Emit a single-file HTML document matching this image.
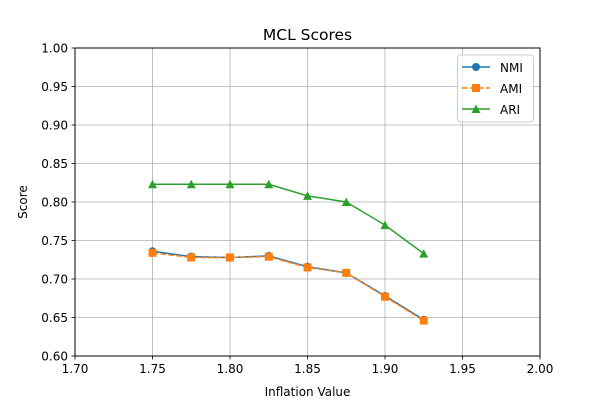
<!DOCTYPE html>
<html><head><meta charset="utf-8"><style>
body{margin:0;background:#fff}
svg text{font-family:"DejaVu Sans","Liberation Sans",sans-serif;fill:#000}
</style></head><body>
<svg id="chart" width="600" height="400" xmlns="http://www.w3.org/2000/svg">
<rect width="600" height="400" fill="#fff"/>
<g id="grid"></g>
<g id="ticks"></g>
<g id="series"></g>
<rect x="75" y="48" width="465" height="308" fill="none" stroke="#000" stroke-width="1"/>
<text x="307.5" y="40" font-size="15.5" text-anchor="middle">MCL Scores</text>
<text x="307.5" y="396" font-size="12" text-anchor="middle">Inflation Value</text>
<text x="27" y="202" font-size="12" text-anchor="middle" transform="rotate(-90 27 202)">Score</text>
<g>
<rect x="457.5" y="55" width="76" height="67" rx="3" fill="#fff" fill-opacity="0.8" stroke="#ccc"/>
<g><line x1="462" y1="67" x2="490" y2="67" stroke="#1f77b4" stroke-width="1.5"/><circle cx="476" cy="67" r="4" fill="#1f77b4"/><text x="500" y="72" font-size="12">NMI</text></g>
<g><line x1="462" y1="88" x2="490" y2="88" stroke="#ff7f0e" stroke-width="1.5" stroke-dasharray="5.5,2.5"/><rect x="472" y="84" width="8" height="8" fill="#ff7f0e"/><text x="500" y="93" font-size="12">AMI</text></g>
<g><line x1="462" y1="109" x2="490" y2="109" stroke="#2ca02c" stroke-width="1.5"/><polygon points="476,104.5 480.5,113 471.5,113" fill="#2ca02c"/><text x="500" y="114" font-size="12">ARI</text></g>
</g>
</svg>
<script>
const xValues=[1.75,1.775,1.8,1.825,1.85,1.875,1.9,1.925];
const nmi=[0.736,0.729,0.728,0.730,0.716,0.708,0.678,0.647];
const ami=[0.734,0.728,0.728,0.729,0.715,0.708,0.677,0.646];
const ari=[0.823,0.823,0.823,0.823,0.808,0.800,0.770,0.733];
const xTicks=["1.70","1.75","1.80","1.85","1.90","1.95","2.00"];
const yTicks=["0.60","0.65","0.70","0.75","0.80","0.85","0.90","0.95","1.00"];
const NS="http://www.w3.org/2000/svg";
const X0=75,X1=540,Y0=356,Y1=48;
const xs=v=>X0+(v-1.7)/(2.0-1.7)*(X1-X0);
const ys=v=>Y0-(v-0.6)/(1.0-0.6)*(Y0-Y1);
function mk(t,a,p){const e=document.createElementNS(NS,t);for(const k in a)e.setAttribute(k,a[k]);p.appendChild(e);return e;}
const grid=document.getElementById('grid'),ticks=document.getElementById('ticks'),ser=document.getElementById('series');
xTicks.forEach(t=>{const x=xs(+t);
const g=mk('line',{x1:x,x2:x,y1:Y1,y2:Y0,stroke:'#b0b0b0','stroke-width':0.8},grid);


mk('line',{x1:x,x2:x,y1:Y0,y2:Y0+3.5,stroke:'#000','stroke-width':0.8},ticks);
const tx=mk('text',{x:x,y:Y0+17,'font-size':12,'text-anchor':'middle'},ticks);tx.textContent=t;

});
yTicks.forEach(t=>{const y=ys(+t);
const g=mk('line',{x1:X0,x2:X1,y1:y,y2:y,stroke:'#b0b0b0','stroke-width':0.8},grid);


mk('line',{x1:X0-3.5,x2:X0,y1:y,y2:y,stroke:'#000','stroke-width':0.8},ticks);
const tx=mk('text',{x:X0-7,y:y+4.5,'font-size':12,'text-anchor':'end'},ticks);tx.textContent=t;

});
function series(vals,color,dash,marker,name){
const g=mk('g',{},ser);


const pts=vals.map((v,i)=>xs(xValues[i])+','+ys(v)).join(' ');
const a={points:pts,fill:'none',stroke:color,'stroke-width':1.5};if(dash)a['stroke-dasharray']=dash;
mk('polyline',a,g);
vals.forEach((v,i)=>{const x=xs(xValues[i]),y=ys(v);let m;
if(marker==='o')m=mk('circle',{cx:x,cy:y,r:4,fill:color},g);
else if(marker==='s')m=mk('rect',{x:x-4,y:y-4,width:8,height:8,fill:color},g);
else m=mk('polygon',{points:`${x},${y-4.5} ${x+4.5},${y+4} ${x-4.5},${y+4}`,fill:color},g);

});}
series(nmi,'#1f77b4',null,'o','nmi');
series(ami,'#ff7f0e','5.5,2.5','s','ami');
series(ari,'#2ca02c',null,'^','ari');
</script>
</body></html>
